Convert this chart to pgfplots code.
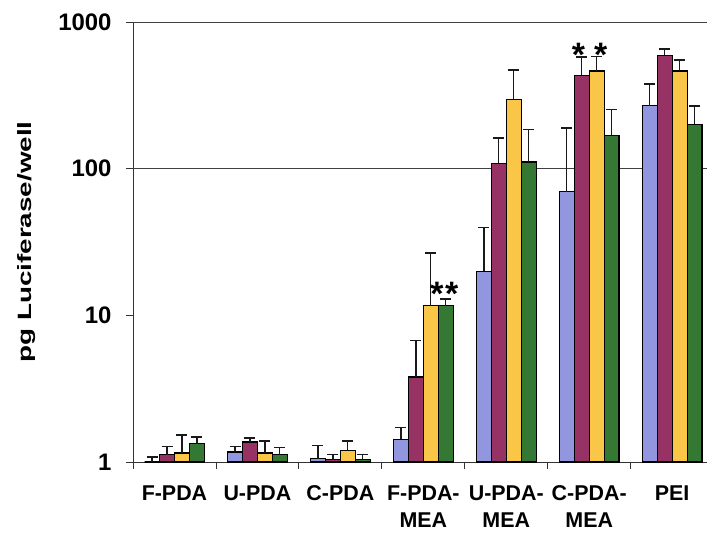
\documentclass[border=0pt]{standalone}
\usepackage{graphicx}
\usepackage{pgfplots}
\pgfplotsset{compat=1.18}
\usepackage{fontspec}
\setmainfont{Liberation Sans}
\definecolor{cblue}{RGB}{146,150,222}
\definecolor{cpurple}{RGB}{150,50,100}
\definecolor{cyellow}{RGB}{250,198,72}
\definecolor{cgreen}{RGB}{52,120,52}
\pgfplotstableread{
x y e
0 1.00 0.08
1 1.17 0.10
2 1.05 0.24
3 1.43 0.28
4 20.0 19.5
5 69.5 119.5
6 268 110
}\tblue
\pgfplotstableread{
x y e
0 1.12 0.15
1 1.37 0.09
2 1.04 0.09
3 3.8 2.9
4 109 53
5 433 144
6 594 60
}\tpurple
\pgfplotstableread{
x y e
0 1.15 0.38
1 1.15 0.24
2 1.20 0.19
3 11.6 15
4 298 172
5 463 117
6 463 87
}\tyellow
\pgfplotstableread{
x y e
0 1.33 0.15
1 1.12 0.13
2 1.04 0.09
3 11.6 1.3
4 111 73
5 169 85
6 201 67
}\tgreen
\begin{document}
\begin{tikzpicture}
\begin{axis}[
  name=ax, at={(0,0)}, anchor=south west,
  scale only axis, width=574bp, height=440bp,
  ymode=log, ymin=1, ymax=1000,
  xmin=-0.5, xmax=6.42,
  ybar=0pt, bar width=0.18,
  axis x line*=bottom, axis y line*=left,
  axis line style={black!80, line width=0.9bp},
  ytick={1,10,100,1000}, yticklabels={1,10,100,1000},
  yminorticks=false,
  tick align=outside, major tick length=7bp, minor tick length=7bp,
  tick style={black!80, line width=0.8bp},
  xtick={0,...,6},
  xticklabels={F-PDA,U-PDA,C-PDA,F-PDA-\\MEA,U-PDA-\\MEA,C-PDA-\\MEA,PEI},
  major x tick style={draw=none},
  minor xtick={-0.5,0.5,...,6.5},
  extra y ticks={100,1000}, extra y tick labels={},
  extra y tick style={grid=major, major grid style={black!75, line width=0.8bp}, major tick length=0pt},
  /pgf/number format/assume math mode=true,
  xticklabel style={align=center, font=\bfseries\fontsize{21.5}{27}\selectfont, yshift=-13bp},
  yticklabel style={font=\bfseries\fontsize{24}{26}\selectfont, xshift=-11bp},
  ylabel={\scalebox{1.27}[0.88]{pg Luciferase/well}},
  every axis y label/.style={at={(axis description cs:-0.186,0.5)}, rotate=90, anchor=center, font=\bfseries\fontsize{22}{26}\selectfont},
  every axis plot/.append style={draw=black, line width=1.2bp},
  error bars/y dir=plus, error bars/y explicit,
  error bars/error bar style={black!90, line width=1.3bp},
  error bars/error mark options={rotate=90, mark size=5.5bp, black!90, line width=1.3bp},
  clip=false,
]
\addplot[fill=cblue] table[x=x, y=y, y error=e] {\tblue};
\addplot[fill=cpurple] table[x=x, y=y, y error=e] {\tpurple};
\addplot[fill=cyellow] table[x=x, y=y, y error=e] {\tyellow};
\addplot[fill=cgreen] table[x=x, y=y, y error=e] {\tgreen};
\node[font=\bfseries\fontsize{34}{34}\selectfont, inner sep=0pt] at (axis cs:3.163,14.0) {*};
\node[font=\bfseries\fontsize{34}{34}\selectfont, inner sep=0pt] at (axis cs:3.343,14.0) {*};
\node[font=\bfseries\fontsize{34}{34}\selectfont, inner sep=0pt] at (axis cs:4.87,600) {*};
\node[font=\bfseries\fontsize{34}{34}\selectfont, inner sep=0pt] at (axis cs:5.14,600) {*};
\end{axis}
\pgfresetboundingbox
\path (-133bp,-71bp) rectangle (574bp,462bp);
\end{tikzpicture}
\end{document}
